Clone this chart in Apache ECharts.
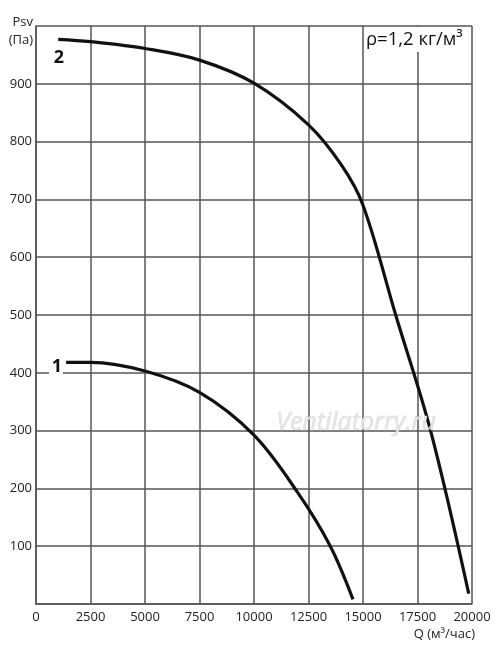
<!DOCTYPE html>
<html>
<head>
<meta charset="utf-8">
<script src="https://cdn.jsdelivr.net/npm/echarts@6/dist/echarts.min.js"></script>
<style>
html,body{margin:0;padding:0;background:#fff;}
#chart{width:500px;height:650px;}
</style>
</head>
<body>
<div id="chart"></div>
<script>
// Data (Q in m3/h, Psv in Pa)
const curve1 = [[1380,418],[2500,418],[5000,403],[7500,366],[10000,292],[12000,193],[13500,100],[14540,8]];
const curve2 = [[1020,977],[2500,973],[5000,961],[7500,941],[10000,901],[12500,829],[14000,760],[15000,690],[16500,500],[18100,300],[19850,18]];
const xTicks = [0,2500,5000,7500,10000,12500,15000,17500,20000];
const yTicks = [100,200,300,400,500,600,700,800,900];

const FONT = 'Open Sans';
const chart = echarts.init(document.getElementById('chart'), null, {renderer:'canvas'});
const gridColor = '#555';
chart.setOption({
  animation:false,
  backgroundColor:'#fff',
  grid:{left:36, right:28, top:26, bottom:46, containLabel:false},
  xAxis:{
    type:'value', min:0, max:20000, interval:2500,
    axisLine:{show:true, lineStyle:{color:gridColor, width:1.5}},
    axisTick:{show:false},
    splitLine:{show:true, lineStyle:{color:gridColor, width:1.5}},
    axisLabel:{color:'#222', fontFamily:FONT, fontSize:13, margin:7,
      formatter:v=>xTicks.includes(v)?String(v):''}
  },
  yAxis:{
    type:'value', min:0, max:1000, interval:100,
    axisLine:{show:true, lineStyle:{color:gridColor, width:1.5}},
    axisTick:{show:false},
    splitLine:{show:true, lineStyle:{color:gridColor, width:1.5}},
    axisLabel:{color:'#222', fontFamily:FONT, fontSize:13, margin:4,
      formatter:v=>yTicks.includes(v)?String(v):''}
  },
  series:[
    {type:'line', data:curve1, smooth:0.35, showSymbol:false, z:5,
     lineStyle:{color:'#111', width:3.2}},
    {type:'line', data:curve2, smooth:0.35, showSymbol:false, z:5,
     lineStyle:{color:'#111', width:3.2}}
  ],
  graphic:[
    {type:'text', x:33, y:22, z:100,
     style:{text:'Psv', fontFamily:FONT, fontSize:13, fill:'#222', align:'right', verticalAlign:'middle'}},
    {type:'text', x:33, y:40, z:100,
     style:{text:'(Па)', fontFamily:FONT, fontSize:13, fill:'#222', align:'right', verticalAlign:'middle'}},
    {type:'text', x:475, y:634, z:100,
     style:{text:'Q (м³/час)', fontFamily:FONT, fontSize:13, fill:'#222', align:'right', verticalAlign:'middle'}},
    {type:'rect', shape:{x:365, y:27, width:104, height:25}, z:99,
     style:{fill:'#fff'}},
    {type:'text', x:366, y:40, z:100,
     style:{text:'ρ=1,2 кг/м³', fontFamily:FONT, fontSize:18.5, fill:'#111', align:'left', verticalAlign:'middle'}},
    {type:'rect', shape:{x:49, y:358, width:14, height:18}, z:99, style:{fill:'#fff'}},
    {type:'text', x:57, y:367, z:100,
     style:{text:'1', fontFamily:FONT, fontSize:18, fontWeight:'bold', fill:'#111', align:'center', verticalAlign:'middle'}},
    {type:'text', x:59, y:58, z:100,
     style:{text:'2', fontFamily:FONT, fontSize:18, fontWeight:'bold', fill:'#111', align:'center', verticalAlign:'middle'}},
    {type:'text', x:356, y:423, z:50,
     style:{text:'Ventilatorry.ru', fontFamily:FONT, fontSize:25, fontStyle:'italic', fill:'#e4e4e4', stroke:'#d4d4d4', lineWidth:0.5, align:'center', verticalAlign:'middle'}}
  ]
});
</script>
</body>
</html>
